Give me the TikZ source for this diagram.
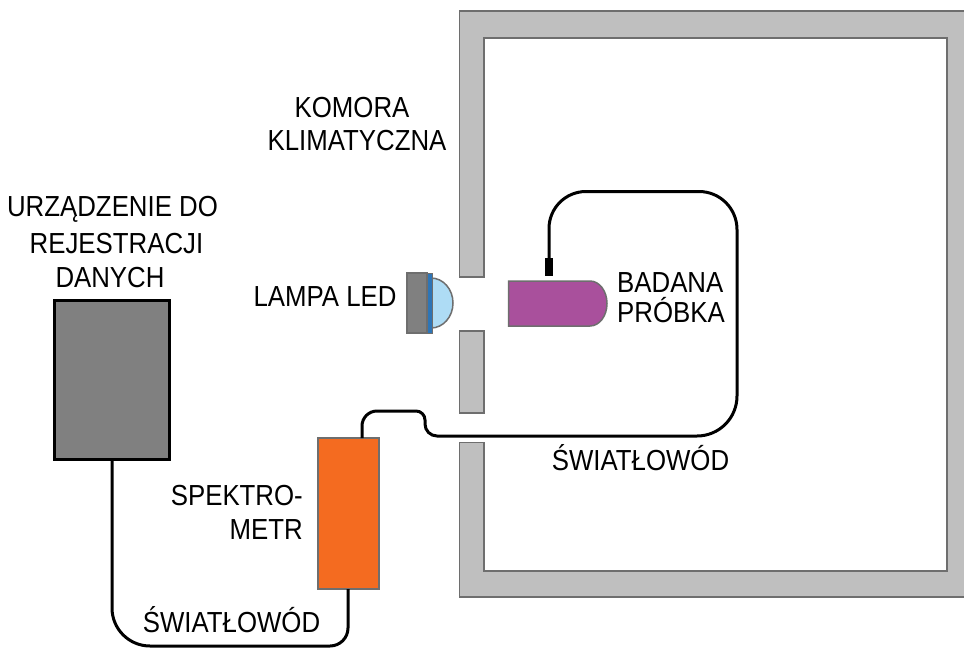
\documentclass[tikz,border=0pt]{standalone}
\usepackage{xcolor}
\usepackage{fontspec}
\setmainfont[FakeStretch=0.89]{Liberation Sans}
\usetikzlibrary{positioning}
\definecolor{wallgray}{RGB}{191,191,191}
\definecolor{wallborder}{RGB}{110,110,110}
\definecolor{devgray}{RGB}{128,128,128}
\definecolor{ledblue}{RGB}{46,117,182}
\definecolor{domeblue}{RGB}{174,220,245}
\definecolor{samplepurple}{RGB}{169,80,156}
\definecolor{specorange}{RGB}{244,107,32}
\tikzset{
  wall/.style = {draw=wallborder, fill=wallgray, line width=1.5pt, line join=miter},
  partbox/.style = {rectangle, draw=wallborder, line width=1.5pt, inner sep=0pt, outer sep=0pt},
  fiber/.style = {draw=black, line width=3pt},
  lbl/.style = {font=\fontsize{29}{34}\selectfont, inner sep=0pt, anchor=base}
}
\begin{document}
\begin{tikzpicture}[x=1pt, y=-1pt]
\clip (0,0) rectangle (964,648);
\fill[white] (0,0) rectangle (964,648);

\draw[wall] (459.5,11) -- (975,11) -- (975,597) -- (459.5,597) -- (459.5,442.5) -- (484,442.5)
  -- (484,571) -- (947,571) -- (947,38) -- (484,38) -- (484,277) -- (459.5,277) -- cycle;
\node[partbox, fill=wallgray, minimum width=24.5pt, minimum height=82pt] (wallmid) at (471.75,372) {};

\node[partbox, fill=devgray, draw=black, line width=3pt, minimum width=115pt, minimum height=159pt] (device) at (112,380) {};
\node[partbox, fill=specorange, minimum width=61pt, minimum height=151pt] (spectro) at (348.5,513.5) {};
\node[partbox, fill=devgray, minimum width=20pt, minimum height=60pt] (lamp) at (417,303) {};
\draw[partbox, fill=domeblue] (431,278) arc[start angle=-90, end angle=90, x radius=22, y radius=25] -- cycle;
\node[partbox, fill=ledblue, line width=1pt, minimum width=5pt, minimum height=60pt, right=0pt of lamp] (ledbar) {};
\draw[partbox, fill=samplepurple] (508.5,281) -- (590,281)
  arc[start angle=-90, end angle=90, x radius=17, y radius=22.5] -- (508.5,326) -- cycle;
\node[rectangle, fill=black, minimum width=8pt, minimum height=18pt, inner sep=0pt] (plug) at (549,267) {};

\draw[fiber] (device.south) [rounded corners=38pt] -- (112,646) [rounded corners=18pt] -- (348,646) -- (spectro.south -| 348,0);
\draw[fiber] (plug.north) [rounded corners=37pt] -- (549,191.5) [rounded corners=38pt] -- (737,191.5)
  [rounded corners=40pt] -- (737,436) [rounded corners=12pt] -- (425,436) [rounded corners=9pt] -- (425,411)
  [rounded corners=15pt] -- (362,411) -- (spectro.north -| 362,0);

\node[lbl] (komora) at (352,117) {KOMORA};
\node[lbl] (klimat) at (357,150) {KLIMATYCZNA};
\node[lbl] (devtxta) at (112.5,216) {URZĄDZENIE DO};
\node[lbl] (devtxtb) at (116.5,253) {REJESTRACJI};
\node[lbl] (devtxtc) at (110,287) {DANYCH};
\node[lbl] (lamptxt) at (325,306) {LAMPA LED};
\node[lbl, anchor=base west] (sampletxta) at (617,292) {BADANA};
\node[lbl, anchor=base west] (sampletxtb) at (617,322) {PRÓBKA};
\node[lbl, anchor=base east] (spectxta) at (303,505) {SPEKTRO-};
\node[lbl, anchor=base east] (spectxtb) at (303,539) {METR};
\node[lbl] (fibertxta) at (640.5,470) {ŚWIATŁOWÓD};
\node[lbl] (fibertxtb) at (231.5,632) {ŚWIATŁOWÓD};
\end{tikzpicture}
\end{document}
